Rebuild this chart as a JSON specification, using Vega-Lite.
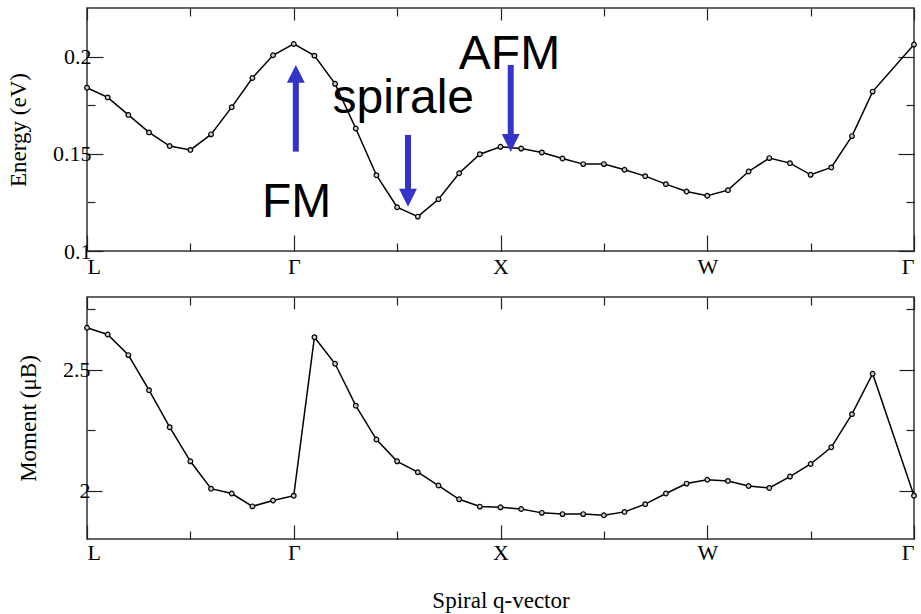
{
  "$schema": "https://vega.github.io/schema/vega-lite/v6.json",
  "background": "white",
  "padding": {"left": 6, "top": 6, "right": 5, "bottom": 2},
  "config": {
    "view": {"stroke": "#333333", "strokeWidth": 1.5},
    "font": "Liberation Serif",
    "axis": {
      "labelFont": "Liberation Serif", "titleFont": "Liberation Serif",
      "labelFontSize": 22, "titleFontSize": 23, "titleFontWeight": "normal",
      "labelColor": "black", "titleColor": "black",
      "tickColor": "#222222", "tickWidth": 1.2, "grid": false, "domain": false
    }
  },
  "datasets": {
    "energy": [
      {"q": 0.0, "E": 0.184}, {"q": 0.2, "E": 0.179}, {"q": 0.4, "E": 0.170}, {"q": 0.6, "E": 0.161},
      {"q": 0.8, "E": 0.154}, {"q": 1.0, "E": 0.152}, {"q": 1.2, "E": 0.160}, {"q": 1.4, "E": 0.174},
      {"q": 1.6, "E": 0.189}, {"q": 1.8, "E": 0.2007}, {"q": 2.0, "E": 0.2065}, {"q": 2.2, "E": 0.2005},
      {"q": 2.4, "E": 0.186}, {"q": 2.6, "E": 0.163}, {"q": 2.8, "E": 0.139}, {"q": 3.0, "E": 0.1225},
      {"q": 3.2, "E": 0.1177}, {"q": 3.4, "E": 0.1266}, {"q": 3.6, "E": 0.140}, {"q": 3.8, "E": 0.1498},
      {"q": 4.0, "E": 0.1536}, {"q": 4.2, "E": 0.1527}, {"q": 4.4, "E": 0.1507}, {"q": 4.6, "E": 0.1476},
      {"q": 4.8, "E": 0.1447}, {"q": 5.0, "E": 0.1447}, {"q": 5.2, "E": 0.1418}, {"q": 5.4, "E": 0.1385},
      {"q": 5.6, "E": 0.1344}, {"q": 5.8, "E": 0.1306}, {"q": 6.0, "E": 0.1284}, {"q": 6.2, "E": 0.1313},
      {"q": 6.4, "E": 0.1409}, {"q": 6.6, "E": 0.1478}, {"q": 6.8, "E": 0.1452}, {"q": 7.0, "E": 0.1392},
      {"q": 7.2, "E": 0.1430}, {"q": 7.4, "E": 0.1591}, {"q": 7.6, "E": 0.182}, {"q": 8.0, "E": 0.2062}
    ],
    "moment": [
      {"q": 0.0, "M": 2.673}, {"q": 0.2, "M": 2.645}, {"q": 0.4, "M": 2.560}, {"q": 0.6, "M": 2.415},
      {"q": 0.8, "M": 2.262}, {"q": 1.0, "M": 2.121}, {"q": 1.2, "M": 2.008}, {"q": 1.4, "M": 1.988},
      {"q": 1.6, "M": 1.935}, {"q": 1.8, "M": 1.959}, {"q": 2.0, "M": 1.979}, {"q": 2.2, "M": 2.634},
      {"q": 2.4, "M": 2.524}, {"q": 2.6, "M": 2.351}, {"q": 2.8, "M": 2.211}, {"q": 3.0, "M": 2.121},
      {"q": 3.2, "M": 2.076}, {"q": 3.4, "M": 2.021}, {"q": 3.6, "M": 1.964}, {"q": 3.8, "M": 1.934},
      {"q": 4.0, "M": 1.931}, {"q": 4.2, "M": 1.924}, {"q": 4.4, "M": 1.908}, {"q": 4.6, "M": 1.903},
      {"q": 4.8, "M": 1.903}, {"q": 5.0, "M": 1.898}, {"q": 5.2, "M": 1.912}, {"q": 5.4, "M": 1.944},
      {"q": 5.6, "M": 1.988}, {"q": 5.8, "M": 2.029}, {"q": 6.0, "M": 2.045}, {"q": 6.2, "M": 2.040},
      {"q": 6.4, "M": 2.019}, {"q": 6.6, "M": 2.011}, {"q": 6.8, "M": 2.058}, {"q": 7.0, "M": 2.110},
      {"q": 7.2, "M": 2.179}, {"q": 7.4, "M": 2.316}, {"q": 7.6, "M": 2.483}, {"q": 8.0, "M": 1.979}
    ],
    "labels": [
      {"label": "FM", "x": 2.027, "y": 0.1176},
      {"label": "spirale", "x": 3.06, "y": 0.1708},
      {"label": "AFM", "x": 4.087, "y": 0.1935}
    ],
    "shafts": [
      {"x": 2.02, "y1": 0.1511, "y2": 0.1911},
      {"x": 3.105, "y1": 0.1597, "y2": 0.1274},
      {"x": 4.099, "y1": 0.1957, "y2": 0.1556}
    ],
    "heads": [
      {"x": 2.02, "y": 0.1911, "dir": "up"},
      {"x": 3.105, "y": 0.1274, "dir": "down"},
      {"x": 4.099, "y": 0.1556, "dir": "down"}
    ]
  },
  "spacing": 17,
  "vconcat": [
    {
      "width": 827,
      "height": 243,
      "resolve": {"axis": {"x": "independent", "y": "independent"}},
      "layer": [
        {
          "data": {"name": "energy"},
          "mark": {"type": "line", "color": "black", "strokeWidth": 1.5},
          "encoding": {
            "x": {"field": "q", "type": "quantitative",
              "scale": {"domain": [0, 8], "nice": false, "zero": false},
              "axis": {"orient": "bottom", "title": null, "values": [0, 1, 2, 3, 4, 5, 6, 7, 8],
                "labelExpr": "datum.value == 0 ? 'L' : datum.value == 2 ? 'Γ' : datum.value == 4 ? 'X' : datum.value == 6 ? 'W' : datum.value == 8 ? 'Γ' : ''",
                "tickSize": {"condition": {"test": "datum.value % 2 == 1", "value": -8}, "value": -16},
                "labelPadding": 21}},
            "y": {"field": "E", "type": "quantitative",
              "scale": {"domain": [0.1, 0.225], "nice": false, "zero": false},
              "axis": {"orient": "left", "title": "Energy (eV)", "values": [0.1, 0.125, 0.15, 0.175, 0.2],
                "format": "~g",
                "labelExpr": "round(datum.value * 40) % 2 == 1 ? '' : datum.label",
                "tickSize": {"condition": {"test": "round(datum.value * 40) % 2 == 1", "value": -8}, "value": -16},
                "labelPadding": 12, "titlePadding": 22}}
          }
        },
        {
          "data": {"name": "energy"},
          "mark": {"type": "point", "filled": false, "shape": "circle", "size": 22, "stroke": "black", "strokeWidth": 1.2, "fill": "#cccccc", "fillOpacity": 1},
          "encoding": {
            "x": {"field": "q", "type": "quantitative",
              "axis": {"orient": "top", "title": null, "labels": false, "values": [0, 1, 2, 3, 4, 5, 6, 7, 8],
                "tickSize": {"condition": {"test": "datum.value % 2 == 1", "value": -8}, "value": -12}}},
            "y": {"field": "E", "type": "quantitative",
              "axis": {"orient": "right", "title": null, "labels": false, "values": [0.1, 0.125, 0.15, 0.175, 0.2],
                "tickSize": {"condition": {"test": "round(datum.value * 40) % 2 == 1", "value": -8}, "value": -16}}}
          }
        },
        {
          "data": {"name": "shafts"},
          "mark": {"type": "rule", "color": "#3434c8", "strokeWidth": 6},
          "encoding": {
            "x": {"field": "x", "type": "quantitative", "axis": null},
            "y": {"field": "y1", "type": "quantitative", "axis": null},
            "y2": {"field": "y2"}
          }
        },
        {
          "data": {"name": "heads"},
          "mark": {"type": "point", "filled": true, "color": "#3434c8", "size": 320, "opacity": 1, "strokeWidth": 0},
          "encoding": {
            "x": {"field": "x", "type": "quantitative", "axis": null},
            "y": {"field": "y", "type": "quantitative", "axis": null},
            "shape": {"field": "dir", "type": "nominal", "legend": null,
              "scale": {"domain": ["up", "down"], "range": ["M-1,1L1,1L0,-1Z", "M-1,-1L1,-1L0,1Z"]}}
          }
        },
        {
          "data": {"name": "labels"},
          "mark": {"type": "text", "font": "Liberation Sans", "fontSize": 48, "baseline": "alphabetic", "align": "center", "color": "black"},
          "encoding": {
            "x": {"field": "x", "type": "quantitative", "axis": null},
            "y": {"field": "y", "type": "quantitative", "axis": null},
            "text": {"field": "label"}
          }
        }
      ]
    },
    {
      "width": 827,
      "height": 242,
      "resolve": {"axis": {"x": "independent", "y": "independent"}},
      "layer": [
        {
          "data": {"name": "moment"},
          "mark": {"type": "line", "color": "black", "strokeWidth": 1.5},
          "encoding": {
            "x": {"field": "q", "type": "quantitative",
              "scale": {"domain": [0, 8], "nice": false, "zero": false},
              "axis": {"orient": "bottom", "title": "Spiral q-vector", "values": [0, 1, 2, 3, 4, 5, 6, 7, 8],
                "labelExpr": "datum.value == 0 ? 'L' : datum.value == 2 ? 'Γ' : datum.value == 4 ? 'X' : datum.value == 6 ? 'W' : datum.value == 8 ? 'Γ' : ''",
                "tickSize": {"condition": {"test": "datum.value % 2 == 1", "value": -8}, "value": -14},
                "labelPadding": 17, "titlePadding": 26}},
            "y": {"field": "M", "type": "quantitative",
              "scale": {"domain": [1.8, 2.8], "nice": false, "zero": false},
              "axis": {"orient": "left", "title": "Moment (μB)", "values": [2, 2.25, 2.5, 2.75],
                "format": "~g",
                "labelExpr": "round(datum.value * 4) % 2 == 1 ? '' : datum.label",
                "tickSize": {"condition": {"test": "round(datum.value * 4) % 2 == 1", "value": -8}, "value": -15},
                "labelPadding": 12, "titlePadding": 22}}
          }
        },
        {
          "data": {"name": "moment"},
          "mark": {"type": "point", "filled": false, "shape": "circle", "size": 22, "stroke": "black", "strokeWidth": 1.2, "fill": "#cccccc", "fillOpacity": 1},
          "encoding": {
            "x": {"field": "q", "type": "quantitative",
              "axis": {"orient": "top", "title": null, "labels": false, "values": [0, 1, 2, 3, 4, 5, 6, 7, 8],
                "tickSize": {"condition": {"test": "datum.value % 2 == 1", "value": -8}, "value": -12}}},
            "y": {"field": "M", "type": "quantitative",
              "axis": {"orient": "right", "title": null, "labels": false, "values": [2, 2.25, 2.5, 2.75],
                "tickSize": {"condition": {"test": "round(datum.value * 4) % 2 == 1", "value": -8}, "value": -15}}}
          }
        }
      ]
    }
  ]
}
